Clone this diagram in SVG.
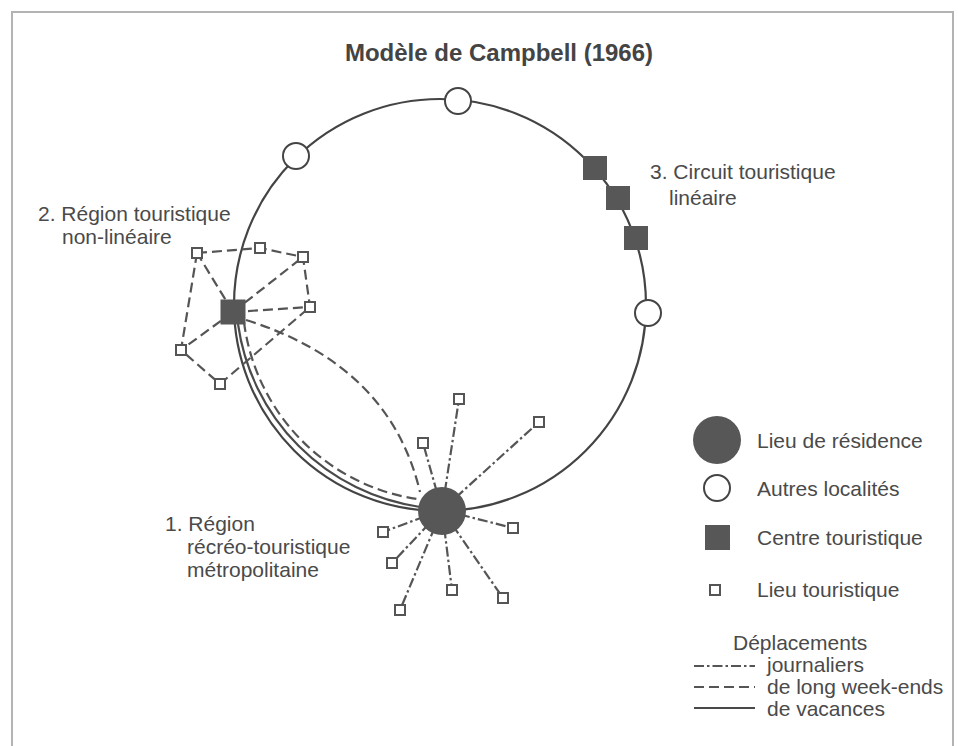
<svg xmlns="http://www.w3.org/2000/svg" width="958" height="746" viewBox="0 0 958 746">
<style>
  text { font-family: "Liberation Sans", Arial, sans-serif; fill: #4a4a4a; font-size: 21px; }
  .title { font-weight: bold; font-size: 24px; fill: #444; }
  .ring { fill: none; stroke: #444; stroke-width: 2.2; }
  .solid { fill: none; stroke: #4a4a4a; stroke-width: 2.2; }
  .dash { fill: none; stroke: #555; stroke-width: 2.2; stroke-dasharray: 10 5; }
  .dashdot { fill: none; stroke: #555; stroke-width: 2.2; stroke-dasharray: 10 3 2.5 3; }
  .res { fill: #575757; }
  .loc { fill: #fff; stroke: #444; stroke-width: 2; }
  .centre { fill: #575757; }
  .lieu { fill: #fff; stroke: #555; stroke-width: 2; }
  .frame { fill: none; stroke: #b3b3b3; stroke-width: 2; }
</style>
<rect width="958" height="746" fill="#fff"/>
<path class="frame" d="M12,746 V12 H953 V746"/>
<text class="title" x="499" y="61" text-anchor="middle">Modèle de Campbell (1966)</text>

<g id="connectors">
  <circle class="ring" cx="440" cy="305" r="206"/>
  <!-- vacances inner solid -->
  <path class="solid" d="M238,324 A215,215 0 0,0 420,507"/>
  <!-- week-end dashed to residence -->
  <path class="dash" d="M244,322 A205,205 0 0,0 417,499"/>
  <path class="dash" d="M246,320 Q390,365 420,492"/>
  <!-- region 2 dashed -->
  <path class="dash" d="M197,253 L260,248 L303,257 L310,307"/>
  <path class="dash" d="M197,253 L181,350 L220,384 L310,307"/>
  <path class="dash" d="M233,312 L197,253 M233,312 L303,257 M233,312 L310,307 M233,312 L181,350"/>
  <!-- region 1 dash-dot -->
  <path class="dashdot" d="M442,510 L459,399 M442,510 L423,443 M442,510 L539,422 M442,510 L513,528 M442,510 L383,532 M442,510 L392,563 M442,510 L400,610 M442,510 L452,590 M442,510 L503,598"/>
</g>

<g id="autres-localites">
  <circle id="loc-top" class="loc" cx="458" cy="101" r="13"/>
  <circle id="loc-nw" class="loc" cx="296" cy="156" r="13"/>
  <circle id="loc-e" class="loc" cx="648" cy="313" r="13"/>
</g>
<g id="circuit-lineaire">
  <rect id="centre-1" class="centre" x="583" y="156" width="24" height="24"/>
  <rect id="centre-2" class="centre" x="606" y="186" width="24" height="24"/>
  <rect id="centre-3" class="centre" x="624" y="226" width="24" height="24"/>
</g>
<g id="region-non-lineaire">
  <rect id="lieu-2a" class="lieu" x="192" y="248" width="10" height="10"/>
  <rect id="lieu-2b" class="lieu" x="255" y="243" width="10" height="10"/>
  <rect id="lieu-2c" class="lieu" x="298" y="252" width="10" height="10"/>
  <rect id="lieu-2d" class="lieu" x="305" y="302" width="10" height="10"/>
  <rect id="lieu-2e" class="lieu" x="176" y="345" width="10" height="10"/>
  <rect id="lieu-2f" class="lieu" x="215" y="379" width="10" height="10"/>
  <rect id="centre-2r" class="centre" x="220.5" y="299.5" width="25" height="25"/>
</g>
<g id="region-metropolitaine">
  <rect id="lieu-1a" class="lieu" x="454" y="394" width="10" height="10"/>
  <rect id="lieu-1b" class="lieu" x="418" y="438" width="10" height="10"/>
  <rect id="lieu-1c" class="lieu" x="534" y="417" width="10" height="10"/>
  <rect id="lieu-1d" class="lieu" x="508" y="523" width="10" height="10"/>
  <rect id="lieu-1e" class="lieu" x="378" y="527" width="10" height="10"/>
  <rect id="lieu-1f" class="lieu" x="387" y="558" width="10" height="10"/>
  <rect id="lieu-1g" class="lieu" x="395" y="605" width="10" height="10"/>
  <rect id="lieu-1h" class="lieu" x="447" y="585" width="10" height="10"/>
  <rect id="lieu-1i" class="lieu" x="498" y="593" width="10" height="10"/>
  <circle id="residence" class="res" cx="442" cy="511" r="24"/>
</g>

<g id="labels">
  <text x="650" y="179">3. Circuit touristique</text>
  <text x="669" y="205">linéaire</text>
  <text x="38" y="221">2. Région touristique</text>
  <text x="62" y="244">non-linéaire</text>
  <text x="165" y="531">1. Région</text>
  <text x="187" y="554">récréo-touristique</text>
  <text x="187" y="577">métropolitaine</text>
</g>

<g id="legend">
  <circle class="res" cx="717" cy="440" r="24"/>
  <text x="757" y="448">Lieu de résidence</text>
  <circle class="loc" cx="717" cy="488" r="13"/>
  <text x="757" y="496">Autres localités</text>
  <rect class="centre" x="705" y="525" width="25" height="25"/>
  <text x="757" y="545">Centre touristique</text>
  <rect class="lieu" x="710" y="585" width="10" height="10"/>
  <text x="757" y="597">Lieu touristique</text>
  <text x="733" y="650">Déplacements</text>
  <line class="dashdot" x1="694" y1="666" x2="755" y2="666"/>
  <text x="767" y="672">journaliers</text>
  <line class="dash" x1="694" y1="687" x2="755" y2="687"/>
  <text x="767" y="694">de long week-ends</text>
  <line class="solid" x1="694" y1="708" x2="755" y2="708"/>
  <text x="767" y="716">de vacances</text>
</g>
</svg>
